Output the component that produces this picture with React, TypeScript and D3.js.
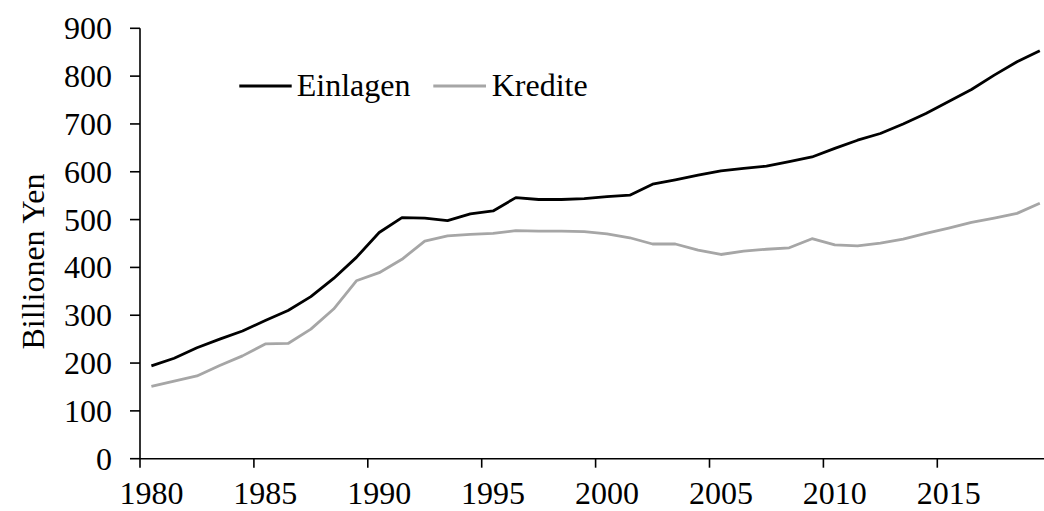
import React from "react";
import * as d3 from "d3";

const years: number[] = [
  1980, 1981, 1982, 1983, 1984, 1985, 1986, 1987, 1988, 1989,
  1990, 1991, 1992, 1993, 1994, 1995, 1996, 1997, 1998, 1999,
  2000, 2001, 2002, 2003, 2004, 2005, 2006, 2007, 2008, 2009,
  2010, 2011, 2012, 2013, 2014, 2015, 2016, 2017, 2018, 2019,
];

const einlagen: number[] = [
  194, 210, 232, 250, 267, 289, 310, 339, 377, 421,
  473, 504, 503, 498, 512, 518, 546, 542, 542, 544,
  548, 551, 574, 583, 593, 602, 607, 612, 621, 631,
  649, 666, 680, 700, 722, 747, 772, 802, 830, 853,
];

const kredite: number[] = [
  151, 162, 173, 195, 215, 240, 241, 271, 313, 372,
  389, 417, 455, 466, 469, 471, 477, 476, 476, 475,
  470, 462, 449, 449, 436, 427, 434, 438, 441, 460,
  447, 445, 451, 459, 471, 482, 494, 503, 513, 534,
];

const yTicks: number[] = [0, 100, 200, 300, 400, 500, 600, 700, 800, 900];
const xTickYears: number[] = [1980, 1985, 1990, 1995, 2000, 2005, 2010, 2015];

const seriesNames = ["Einlagen", "Kredite"];
const seriesColors = ["#000000", "#a6a6a6"];

const W = 1044;
const H = 511;
const FONT = "'Liberation Serif', 'Times New Roman', serif";

export default function App() {
  const x = d3
    .scaleBand<number>()
    .domain(years)
    .range([140, 140 + 22.78 * years.length])
    .padding(0);
  const bw = x.bandwidth();
  const cx = (yr: number) => (x(yr) as number) + bw / 2;
  const y = d3.scaleLinear().domain([0, 900]).range([458.7, 28.3]);

  const line = d3
    .line<number>()
    .x((_, i) => cx(years[i]))
    .y((d) => y(d));

  const series = [einlagen, kredite];

  const legendItems = [
    { x0: 239.3, x1: 291.7, tx: 296.7 },
    { x0: 433.3, x1: 486, tx: 491.7 },
  ];

  return (
    <div style={{ position: "absolute", left: 0, top: 0 }}>
      <svg width={W} height={H} style={{ display: "block", background: "#fff" }}>
        <rect x={0} y={0} width={W} height={H} fill="#fff" />
        {/* y axis */}
        <line x1={140} x2={140} y1={y(900)} y2={y(0)} stroke="#000" strokeWidth={1.6} />
        {yTicks.map((t) => (
          <g key={"yt" + t}>
            <line x1={130} x2={140} y1={y(t)} y2={y(t)} stroke="#000" strokeWidth={1.6} />
            <text
              x={112}
              y={y(t)}
              textAnchor="end"
              dominantBaseline="central"
              fontFamily={FONT}
              fontSize={32}
              fill="#000"
            >
              {t}
            </text>
          </g>
        ))}
        <text
          transform={`translate(44, ${(y(0) + y(900)) / 2 + 18}) rotate(-90)`}
          textAnchor="middle"
          fontFamily={FONT}
          fontSize={32}
          fill="#000"
        >
          Billionen Yen
        </text>
        {/* x axis */}
        <line x1={140} x2={W} y1={y(0)} y2={y(0)} stroke="#000" strokeWidth={1.6} />
        {xTickYears.map((yr) => (
          <g key={"xt" + yr}>
            <line
              x1={x(yr) as number}
              x2={x(yr) as number}
              y1={y(0)}
              y2={y(0) + 9}
              stroke="#000"
              strokeWidth={1.6}
            />
            <text
              x={cx(yr)}
              y={504}
              textAnchor="middle"
              fontFamily={FONT}
              fontSize={32}
              fill="#000"
            >
              {yr}
            </text>
          </g>
        ))}
        {/* lines */}
        {series.map((s, k) => (
          <path
            key={"s" + k}
            d={line(s) || ""}
            fill="none"
            stroke={seriesColors[k]}
            strokeWidth={2.8}
            strokeLinejoin="round"
          />
        ))}
        {/* legend */}
        {legendItems.map((it, k) => (
          <g key={"lg" + k}>
            <line
              x1={it.x0}
              x2={it.x1}
              y1={86}
              y2={86}
              stroke={seriesColors[k]}
              strokeWidth={2.8}
            />
            <text x={it.tx} y={95.7} fontFamily={FONT} fontSize={32} fill="#000">
              {seriesNames[k]}
            </text>
          </g>
        ))}
      </svg>
    </div>
  );
}
